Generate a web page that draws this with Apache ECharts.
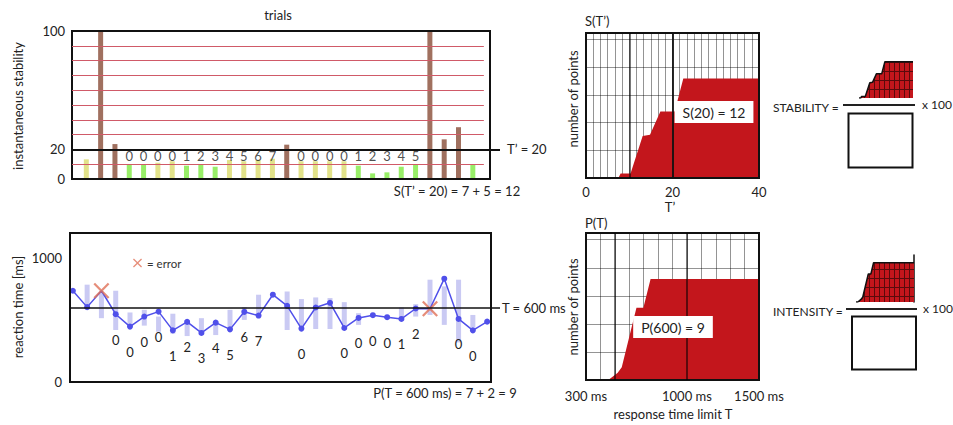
<!DOCTYPE html>
<html><head><meta charset="utf-8">
<script src="https://cdn.jsdelivr.net/npm/echarts@6/dist/echarts.min.js"></script>
<style>html,body{margin:0;padding:0;background:#fff}#c{width:953px;height:425px}</style>
</head><body><div id="c"></div>
<script>
// ---------------- DATA ----------------
// top-left: instantaneous stability per trial (trial 1..28)
const stabilityValues = [13.3,100,23.6,9.7,10,11,12,9,9.7,8.3,12.8,12,12.8,13.7,23.2,12,12,12,12,9,3.8,4.5,8.3,9.5,100,26.8,35,9.5];
const stabilityKind   = ['y','b','b','g','g','y','y','g','g','g','y','y','y','y','b','y','y','y','y','g','g','g','g','g','b','b','b','g'];
const stabilityCounts = [null,null,null,'0','0','0','0','1','2','3','4','5','6','7',null,'0','0','0','0','1','2','3','4','5',null,null,null,null];
const stabilityRefLevels = [10,30,40,50,60,70,80,90];
const stabilityTicks = [0,20,100];
const stabilityThreshold = 20;

// bottom-left: reaction time per trial (trial 0..29)
const reactionTimes = [735,603,735,546,446,527,567,416,484,395,478,424,565,535,703,613,430,600,638,435,516,538,522,508,592,590,832,508,416,486];
const rtRangeLow  = [null,590,514,419,450,454,405,390,370,378,378,419,500,514,null,419,419,427,427,460,460,null,null,500,527,540,460,319,438,null];
const rtRangeHigh = [null,784,720,735,560,581,527,550,500,514,486,581,603,703,null,729,668,681,676,643,554,null,null,600,627,824,770,824,540,null];
const rtCounts = [null,null,null,'0','0','0','0','1','2','3','4','5','6','7',null,null,'0',null,null,'0','0','0','0','1','2',null,null,'0','0',null];
const rtErrors = [2,25];
const rtTicks = [0,1000];
const rtThreshold = 600;

// right: S(T') cumulative curve
const sTprime = [0,7.5,8,10.3,13.1,14.8,17.2,20.5,22.5,40];
const sPoints = [0,0,0.8,0.8,7.6,7.8,12,12,18,18];
const sTicks = [0,20,40];
// right: P(T) cumulative curve
const pLimit  = [300,455,520,548,650,698,748,1500];
const pPoints = [0,0,0.9,1.6,9,9,12.6,12.6];
const pTicks = [300,1000,1500];

// ---------------- STYLE ----------------
const FONT = 'Lato';
const TXT = '#222';
const KIND_COLOR = {y:'#e2e28a', g:'#98ee68', b:'#a0705f'};
const RED_LINE = '#d05a68';
const RED_FILL = '#c3161c';
const BLUE = '#5050ea';
const LAV = '#cacaf3';
const ERR = '#e07058';
const XPATH = 'path://M0,2 L2,0 L10,8 L18,0 L20,2 L12,10 L20,18 L18,20 L10,12 L2,20 L0,18 L8,10 Z';
const GRIDLINE = 'rgba(0,0,0,0.42)';

const chart = echarts.init(document.getElementById('c'), null, {renderer:'svg', width:953, height:425});

const labelOpts = {fontSize:13, color:TXT, fontFamily:FONT};
const plain = v => String(v);

function txt(text, x, y, o) {
  o = o || {};
  return {type:'text', x:x, y:y, rotation:o.rot||0, z:10,
    style:{text:text, fill:o.color||TXT, fontSize:o.size||13, fontFamily:FONT,
      textAlign:o.align||'left', textVerticalAlign:'middle',
      backgroundColor:o.bg, padding:o.pad}};
}

const stabLabelItems = [];
stabilityCounts.forEach((c,i)=>{ if(c!==null) stabLabelItems.push({x:i+1, t:c}); });

const rangeData = [];
reactionTimes.forEach((v,j)=>{ if(rtRangeLow[j]!==null) rangeData.push([j, rtRangeLow[j], rtRangeHigh[j]]); });

const thumbDecal = {symbol:'rect', symbolSize:1, dashArrayX:[[4,1]], dashArrayY:[8,1], color:RED_FILL, rotation:0};

const option = {
  animation:false,
  textStyle:{fontFamily:FONT},
  legend:{data:[{name:'= error', icon:XPATH}], left:128, top:252, itemWidth:9, itemHeight:9,
    selectedMode:false, textStyle:{fontSize:11.5, color:'#333', fontFamily:FONT}},
  grid:[
    {left:72, top:31, width:418, height:148, show:true, borderColor:'#111', borderWidth:2, backgroundColor:'transparent', z:5},
    {left:70, top:233, width:421, height:149, show:true, borderColor:'#111', borderWidth:2, backgroundColor:'transparent', z:5},
    {left:586, top:33, width:173, height:145, show:true, borderColor:'#111', borderWidth:2, backgroundColor:'transparent', z:5},
    {left:586, top:233, width:173, height:147, show:true, borderColor:'#111', borderWidth:2, backgroundColor:'transparent', z:5},
    {left:860, top:61, width:53, height:37},
    {left:857, top:255, width:57, height:47},
    {left:72, top:31, width:428, height:148},
    {left:70, top:233, width:430, height:149}
  ],
  xAxis:[
    {gridIndex:0, type:'value', min:0, max:29.2, show:false},
    {gridIndex:1, type:'value', min:-0.2, max:29.27, show:false},
    {gridIndex:2, type:'value', min:0, max:40, interval:40/24, z:3,
      axisLine:{show:false}, axisTick:{show:false},
      axisLabel:Object.assign({customValues:sTicks, margin:7, formatter:plain}, labelOpts),
      splitLine:{show:true, lineStyle:{color:GRIDLINE, width:1}}},
    {gridIndex:3, type:'value', min:300, max:1500, interval:100, z:3,
      axisLine:{show:false}, axisTick:{show:false},
      axisLabel:Object.assign({customValues:pTicks, margin:9, formatter:v => v + ' ms'}, labelOpts),
      splitLine:{show:true, lineStyle:{color:GRIDLINE, width:1}}},
    {gridIndex:4, type:'value', min:7, max:40, show:false},
    {gridIndex:5, type:'value', min:440, max:1500, show:false},
    {gridIndex:6, type:'value', min:0, max:1, show:false},
    {gridIndex:7, type:'value', min:0, max:1, show:false}
  ],
  yAxis:[
    {gridIndex:0, type:'value', min:0, max:100, axisLine:{show:false}, axisTick:{show:false},
      splitLine:{show:false}, axisLabel:Object.assign({customValues:stabilityTicks, margin:7, formatter:plain}, labelOpts)},
    {gridIndex:1, type:'value', min:0, max:1200, axisLine:{show:false}, axisTick:{show:false},
      splitLine:{show:false}, axisLabel:Object.assign({customValues:rtTicks, margin:8, formatter:plain}, labelOpts)},
    {gridIndex:2, type:'value', min:0, max:26.2, interval:5, z:3, axisLine:{show:false}, axisTick:{show:false},
      axisLabel:{show:false}, splitLine:{show:true, lineStyle:{color:GRIDLINE, width:1}}},
    {gridIndex:3, type:'value', min:0, max:18.34, interval:3.5, z:3, axisLine:{show:false}, axisTick:{show:false},
      axisLabel:{show:false}, splitLine:{show:true, lineStyle:{color:GRIDLINE, width:1}}},
    {gridIndex:4, type:'value', min:0, max:18.4, show:false},
    {gridIndex:5, type:'value', min:0, max:15.1, position:'right', axisLine:{show:true, lineStyle:{color:'#111', width:1.5}},
      axisTick:{show:false}, axisLabel:{show:false}, splitLine:{show:false}},
    {gridIndex:6, type:'value', min:0, max:100, show:false},
    {gridIndex:7, type:'value', min:0, max:1200, show:false}
  ],
  series:[
    {type:'bar', name:'stability', xAxisIndex:0, yAxisIndex:0, barWidth:5, silent:true,
      data:stabilityValues.map((v,i)=>({value:[i+1, v], itemStyle:{color:KIND_COLOR[stabilityKind[i]]}})),
      markLine:{silent:true, symbol:'none', label:{show:false}, lineStyle:{color:RED_LINE, width:1, type:'solid'},
        data:stabilityRefLevels.map(v=>[{coord:[0,v]},{coord:[28.77,v]}])}},
    {type:'scatter', xAxisIndex:0, yAxisIndex:0, symbolSize:0, silent:true,
      data:stabLabelItems.map(d=>[d.x, 15.6]),
      label:Object.assign({show:true, position:'inside', formatter:p=>stabLabelItems[p.dataIndex].t}, labelOpts)},
    {type:'line', xAxisIndex:6, yAxisIndex:6, data:[[0,stabilityThreshold]], symbol:'none', lineStyle:{width:0}, silent:true,
      markLine:{silent:true, symbol:'none', lineStyle:{color:'#111', width:2, type:'solid'},
        label:Object.assign({show:true, position:'end', distance:7, formatter:'T\u2019 = ' + stabilityThreshold}, labelOpts),
        data:[{yAxis:stabilityThreshold}]}},

    {type:'custom', xAxisIndex:1, yAxisIndex:1, silent:true, z:1, data:rangeData,
      renderItem:function(params, api){
        const x = api.value(0), lo = api.value(1), hi = api.value(2);
        const a = api.coord([x, hi]), b = api.coord([x, lo]);
        return {type:'rect', shape:{x:a[0]-2.5, y:a[1], width:5, height:b[1]-a[1]}, style:{fill:LAV}};
      }},
    {type:'line', name:'rt', xAxisIndex:1, yAxisIndex:1, silent:true, z:3,
      data:reactionTimes.map((v,j)=>({value:[j,v], symbol: rtErrors.indexOf(j)>=0 ? 'none':'circle'})),
      symbolSize:6, itemStyle:{color:BLUE}, lineStyle:{color:BLUE, width:1.5},
      label:Object.assign({show:true, position:'bottom', distance:16, formatter:p=>rtCounts[p.dataIndex]||''}, labelOpts)},
    {type:'scatter', name:'= error', xAxisIndex:1, yAxisIndex:1, silent:true, z:4,
      symbol:XPATH, symbolSize:16, itemStyle:{color:ERR},
      data:rtErrors.map(j=>[j, reactionTimes[j]])},
    {type:'line', xAxisIndex:7, yAxisIndex:7, data:[[0,rtThreshold]], symbol:'none', lineStyle:{width:0}, silent:true,
      markLine:{silent:true, symbol:'none', lineStyle:{color:'#111', width:1.5, type:'solid'},
        label:Object.assign({show:true, position:'end', distance:2, formatter:'T = ' + rtThreshold + ' ms'}, labelOpts),
        data:[{yAxis:rtThreshold}]}},

    {type:'line', xAxisIndex:2, yAxisIndex:2, silent:true, symbol:'none', lineStyle:{width:0},
      areaStyle:{color:RED_FILL, opacity:1},
      data:sTprime.map((t,i)=>[t, sPoints[i]]),
      markLine:{silent:true, symbol:'none', label:{show:false},
        data:[{xAxis:10, lineStyle:{color:'rgba(0,0,0,0.7)', width:1.5, type:'solid'}},
              {xAxis:20, lineStyle:{color:'#111', width:1.8, type:'solid'}}]}},
    {type:'line', xAxisIndex:3, yAxisIndex:3, silent:true, symbol:'none', lineStyle:{width:0},
      areaStyle:{color:RED_FILL, opacity:1},
      data:pLimit.map((t,i)=>[t, pPoints[i]]),
      markLine:{silent:true, symbol:'none', label:{show:false},
        data:[{xAxis:500, lineStyle:{color:'rgba(0,0,0,0.7)', width:1.5, type:'solid'}},
              {xAxis:1000, lineStyle:{color:'rgba(0,0,0,0.7)', width:1.5, type:'solid'}}]}},
    {type:'line', xAxisIndex:4, yAxisIndex:4, silent:true, symbol:'none', lineStyle:{color:'#111', width:1.5},
      itemStyle:{color:'#5a0a0c', decal:thumbDecal},
      areaStyle:{color:'#5a0a0c', opacity:1}, data:sTprime.map((t,i)=>[t, sPoints[i]])},
    {type:'line', xAxisIndex:5, yAxisIndex:5, silent:true, symbol:'none', lineStyle:{color:'#111', width:1.5},
      itemStyle:{color:'#5a0a0c', decal:thumbDecal},
      areaStyle:{color:'#5a0a0c', opacity:1}, data:pLimit.map((t,i)=>[t, pPoints[i]])}
  ],
  graphic:[
    txt('trials', 278, 15, {align:'center'}),
    txt('instantaneous stability', 18, 106, {align:'center', rot:Math.PI/2}),
    txt('S(T\u2019 = 20) = 7 + 5 = 12', 457, 191, {align:'center'}),
    txt('reaction time [ms]', 18, 307, {align:'center', rot:Math.PI/2}),
    txt('P(T = 600 ms) = 7 + 2 = 9', 445, 393, {align:'center'}),
    txt('S(T\u2019)', 585, 21),
    txt('number of points', 573, 99, {align:'center', rot:Math.PI/2}),
    txt('T\u2019', 670, 207, {align:'center'}),
    txt('S(20) = 12', 714, 112, {align:'center', size:14, bg:'#fff', pad:[4,8]}),
    txt('P(T)', 585, 223),
    txt('number of points', 573, 307, {align:'center', rot:Math.PI/2}),
    txt('response time limit T', 673, 414, {align:'center'}),
    txt('P(600) = 9', 673, 327, {align:'center', size:14, bg:'#fff', pad:[4,8]}),
    txt('STABILITY =', 773, 107, {size:12}),
    {type:'line', shape:{x1:843, y1:105, x2:915, y2:105}, style:{stroke:'#222', lineWidth:2}},
    txt('x 100', 922, 104, {size:12}),
    {type:'rect', shape:{x:848.5, y:113.5, width:64, height:54}, style:{fill:'none', stroke:'#111', lineWidth:2}},
    txt('INTENSITY =', 773, 311, {size:12}),
    {type:'line', shape:{x1:846, y1:309, x2:917, y2:309}, style:{stroke:'#222', lineWidth:2}},
    txt('x 100', 923, 308, {size:12}),
    {type:'rect', shape:{x:852, y:316.5, width:64, height:53}, style:{fill:'none', stroke:'#111', lineWidth:2}}
  ]
};
chart.setOption(option);
</script>
</body></html>
